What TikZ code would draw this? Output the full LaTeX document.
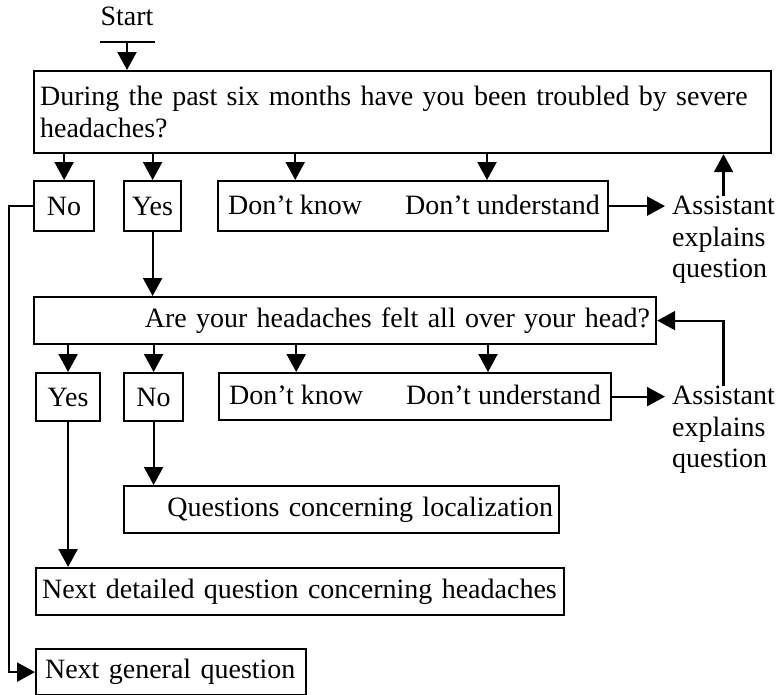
\documentclass[tikz,border=0pt]{standalone}
\usepackage{fontspec}
\setmainfont{Liberation Serif}
\usetikzlibrary{arrows.meta}

\tikzset{
  box/.style={draw, line width=2.2pt, inner sep=6pt, anchor=north west},
  lbl/.style={inner sep=0pt, anchor=west},
  arr/.style={-{Triangle[length=18pt,width=19pt]}, line width=2.2pt},
  plain/.style={line width=2.2pt}
}

\begin{document}
\begin{tikzpicture}[x=1pt,y=-1pt,font=\fontsize{28}{31.5}\selectfont]
\useasboundingbox (0,0) rectangle (783,694);

% first question
\node (start) at (127,16) {Start};
\coordinate (startbar) at (127,42);
\draw[plain] ([xshift=-27pt]startbar) -- ([xshift=28pt]startbar);

\node[box, minimum width=737pt, minimum height=82pt, text width=725pt, align=left] (q1) at (33,70)
  {\mbox{During the past six months have you been troubled by severe}\\headaches?};
\draw[arr] (startbar) -- (q1.north -| startbar);

\node[box, minimum width=60pt, minimum height=50pt] (no1) at (33,180) {No};
\node[box, minimum width=57pt, minimum height=50pt] (yes1) at (123,180) {Yes};
\node[box, minimum width=390pt, minimum height=50pt] (dk1box) at (217,180) {};
\node[lbl] (dk1) at (228,205) {Don't know};
\node[lbl] (du1) at (405,205) {Don't understand};
\node[inner sep=0pt, anchor=north west, align=left] (as1) at (672,196) {Assistant\\explains\\question};

\draw[arr] (q1.south -| no1) -- (no1);
\draw[arr] (q1.south -| yes1) -- (yes1);
\draw[arr] (q1.south -| dk1) -- (dk1box.north -| dk1);
\draw[arr] (q1.south -| 487,0) -- (dk1box.north -| 487,0);
\draw[arr, shorten >=7pt] (dk1box.east) -- (as1.west |- dk1box.east);
\draw[arr] (as1.north) -- (as1.north |- q1.south);

% second question
\node[box, minimum width=622pt, minimum height=47pt, text width=610pt, align=right] (q2) at (33,296)
  {\mbox{Are your headaches felt all over your head?}};
\draw[arr] (yes1) -- (yes1 |- q2.north);

\node[box, minimum width=64pt, minimum height=48pt] (yes2) at (35,372) {Yes};
\node[box, minimum width=59pt, minimum height=48pt] (no2) at (123,372) {No};
\node[box, minimum width=392pt, minimum height=47pt] (dk2box) at (218,372) {};
\node[lbl] (dk2) at (229,395) {Don't know};
\node[lbl] (du2) at (406,395) {Don't understand};
\node[inner sep=0pt, anchor=north west, align=left] (as2) at (672,386) {Assistant\\explains\\question};

\draw[arr] (q2.south -| yes2) -- (yes2);
\draw[arr] (q2.south -| no2) -- (no2);
\draw[arr] (q2.south -| dk2) -- (dk2box.north -| dk2);
\draw[arr] (q2.south -| 488,0) -- (dk2box.north -| 488,0);
\draw[arr, shorten >=7pt] (dk2box.east) -- (as2.west |- dk2box.east);
\draw[arr] (as2.north) |- (q2.east);

% follow-up questions
\node[box, minimum width=435pt, minimum height=47pt, text width=423pt, align=right] (loc) at (123,485)
  {\mbox{Questions concerning localization}};
\node[box, minimum width=528pt, minimum height=47pt, text width=516pt, inner xsep=6pt, align=left] (next) at (35,567)
  {\mbox{Next detailed question concerning headaches}};
\node[box, minimum width=270pt, minimum height=46pt, text width=252pt, inner xsep=9pt, align=left] (gen) at (35,648)
  {\mbox{Next general question}};

\draw[arr] (no2) -- (no2 |- loc.north);
\draw[arr] (yes2) -- (yes2 |- next.north);
\draw[arr] (no1.west) -- ++(-24pt,0) |- (gen.west);
\end{tikzpicture}
\end{document}
